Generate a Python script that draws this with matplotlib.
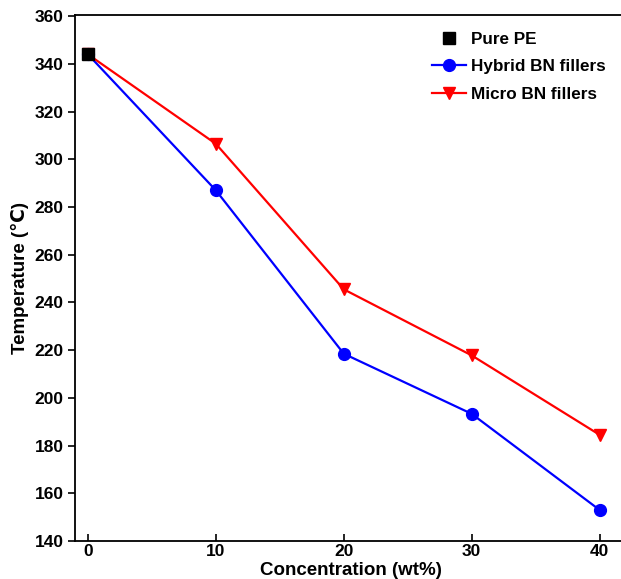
import matplotlib
matplotlib.use('Agg')
import matplotlib.pyplot as plt

plt.rcParams['font.family'] = ['Liberation Sans', 'DejaVu Sans']
plt.rcParams['font.weight'] = 'bold'

# Dados
conc = [0, 10, 20, 30, 40]
pure_pe_x = [0]
pure_pe_y = [344]
hybrid_bn = [344, 287, 218.5, 193.3, 153]
micro_bn = [344, 306.5, 245.5, 217.8, 184.5]

fig = plt.figure(figsize=(6.21, 5.79), dpi=100)
ax = fig.add_axes([74.5 / 621, 38 / 579, 552 / 621, 526 / 579])

ax.plot(conc, hybrid_bn, color='blue', marker='o', markersize=8.5, linewidth=1.6,
        label='Hybrid BN fillers')
ax.plot(conc, micro_bn, color='red', marker='v', markersize=8.5, linewidth=1.6,
        label='Micro BN fillers')
ax.plot(pure_pe_x, pure_pe_y, color='black', marker='s', markersize=8.5,
        linestyle='none', label='Pure PE', zorder=5)

ax.set_xlim(-1.05, 42.1)
ax.set_ylim(140, 360.5)
ax.set_xticks([0, 10, 20, 30, 40])
ax.set_yticks(range(140, 361, 20))
ax.tick_params(axis='x', direction='in', length=5, width=1.2, labelsize=12.5, pad=2)
ax.tick_params(axis='y', direction='out', length=5, width=1.2, labelsize=12.5, pad=3)
for s in ax.spines.values():
    s.set_linewidth(1.3)

ax.set_xlabel('Concentration (wt%)', fontsize=13.5, fontweight='bold', labelpad=2)
ax.set_ylabel('Temperature (℃)', fontsize=13.5, fontweight='bold', labelpad=4)

handles, labels = ax.get_legend_handles_labels()
order = [2, 0, 1]
ax.legend([handles[i] for i in order], [labels[i] for i in order],
          loc='upper right', bbox_to_anchor=(0.99, 0.997), frameon=False,
          fontsize=12.3, handlelength=2.0, handletextpad=0.3, labelspacing=0.72)

fig.savefig('out.png', dpi=100)
